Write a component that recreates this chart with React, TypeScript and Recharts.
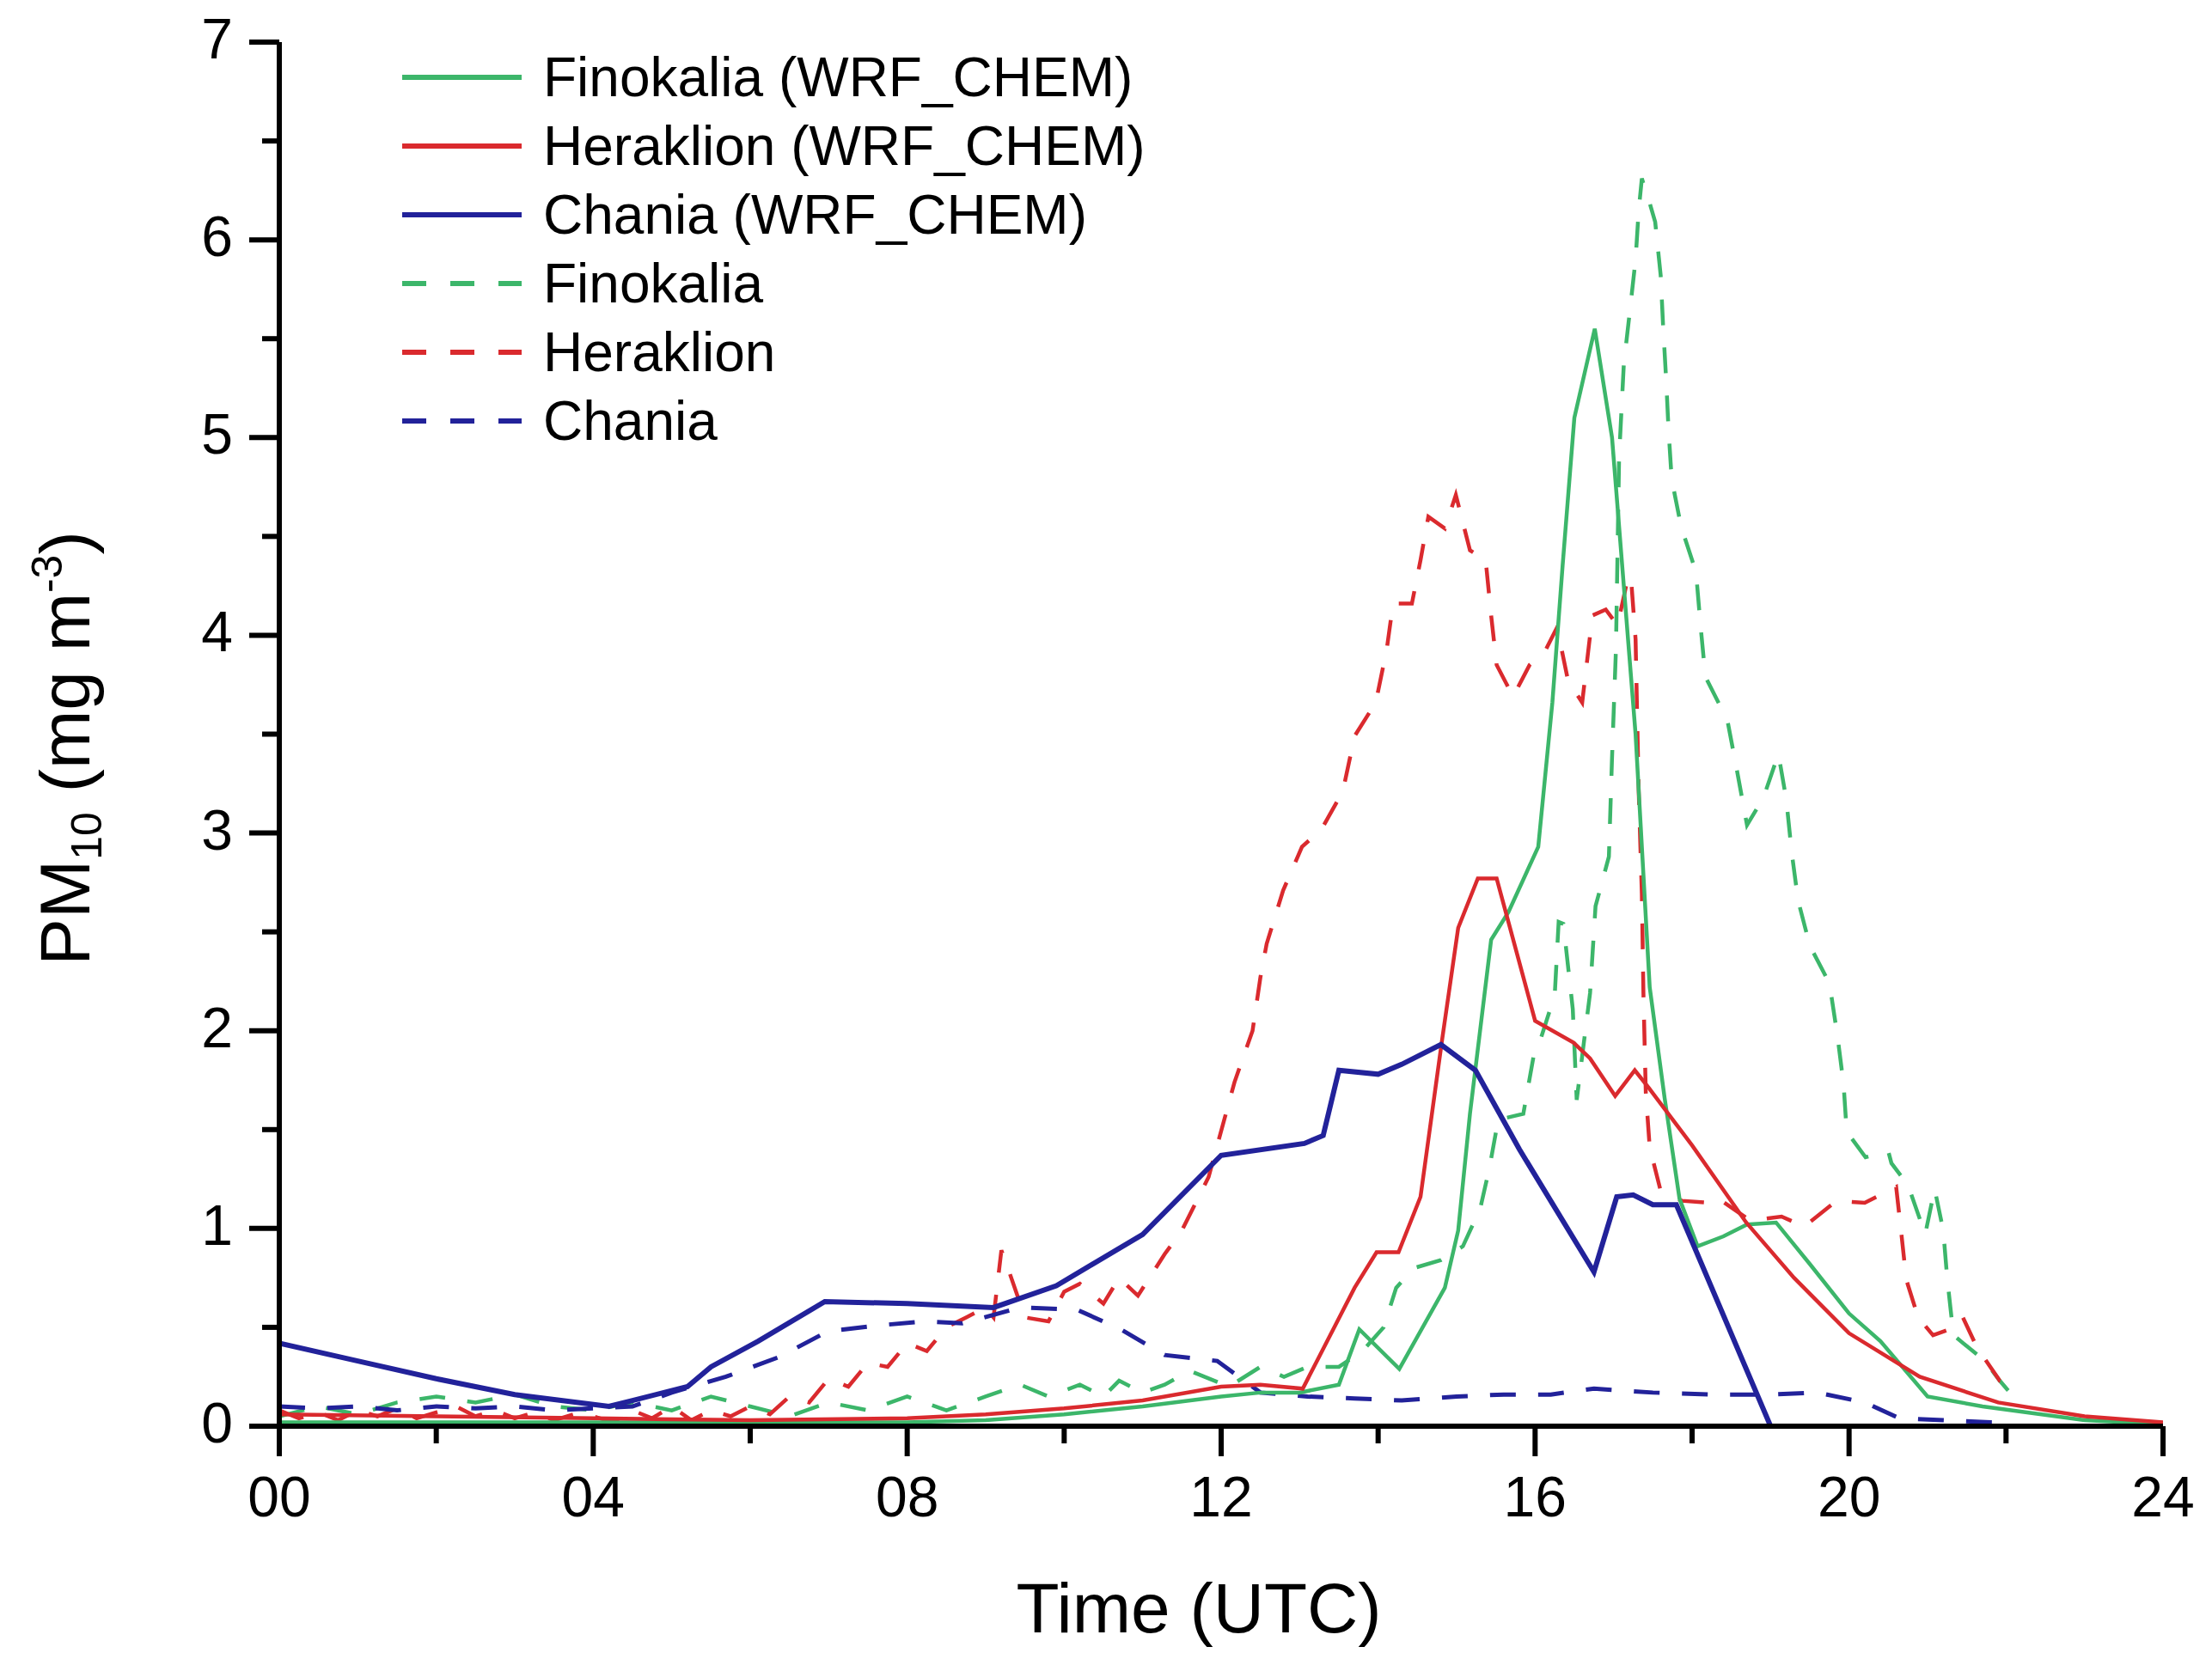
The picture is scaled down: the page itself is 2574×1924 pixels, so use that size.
import { LineChart, Line, XAxis, YAxis, Legend } from "recharts";

// hours (UTC) and PM10 (mg m-3)
const finokaliaWrfHours = [0, 2, 4, 6, 8, 9, 10, 11, 12, 12.5, 13, 13.5, 13.76, 14.27, 14.85, 15.02, 15.17, 15.44, 15.66, 16.04, 16.22, 16.35, 16.5, 16.76, 16.98, 17.1, 17.28, 17.46, 17.65, 17.84, 18.07, 18.4, 18.7, 19.07, 19.5, 20, 20.4, 21, 21.7, 23, 24];
const finokaliaWrfPm = [0.02, 0.02, 0.02, 0.02, 0.02, 0.03, 0.06, 0.1, 0.15, 0.17, 0.17, 0.21, 0.49, 0.29, 0.7, 0.99, 1.58, 2.46, 2.6, 2.93, 3.66, 4.35, 5.1, 5.55, 5.0, 4.4, 3.5, 2.22, 1.66, 1.15, 0.91, 0.96, 1.02, 1.03, 0.82, 0.57, 0.43, 0.15, 0.1, 0.03, 0.01];

const heraklionWrfHours = [0, 2, 4, 6, 8, 9, 10, 11, 12, 12.5, 13.04, 13.7, 13.98, 14.26, 14.54, 14.81, 15.02, 15.27, 15.51, 15.66, 16.0, 16.49, 16.7, 17.02, 17.27, 17.45, 18.0, 18.69, 19.3, 20, 20.9, 21.9, 23, 24];
const heraklionWrfPm = [0.06, 0.05, 0.04, 0.03, 0.04, 0.06, 0.09, 0.13, 0.2, 0.21, 0.19, 0.7, 0.88, 0.88, 1.16, 1.94, 2.52, 2.77, 2.77, 2.55, 2.05, 1.94, 1.86, 1.67, 1.8, 1.71, 1.42, 1.03, 0.75, 0.47, 0.25, 0.12, 0.05, 0.02];

const chaniaWrfHours = [0, 1, 2, 3, 4.2, 4.5, 5.2, 5.5, 6.1, 6.95, 8, 9.1, 9.9, 11, 12, 13.06, 13.3, 13.5, 14, 14.3, 14.8, 15.24, 15.8, 16.75, 17.04, 17.25, 17.5, 17.8, 19, 20, 22, 24];
const chaniaWrfPm = [0.42, 0.33, 0.24, 0.16, 0.1, 0.13, 0.2, 0.3, 0.43, 0.63, 0.62, 0.6, 0.71, 0.97, 1.37, 1.43, 1.47, 1.8, 1.78, 1.83, 1.93, 1.8, 1.4, 0.78, 1.16, 1.17, 1.12, 1.12, 0, 0, 0, 0];

const finokaliaObsHours = [0, 0.5, 1, 1.5, 2, 2.5, 3, 3.5, 4, 4.5, 5, 5.5, 6, 6.5, 7, 7.5, 8, 8.5, 9, 9.44, 9.8, 10.2, 10.5, 10.7, 11, 11.28, 11.6, 12.1, 12.5, 12.8, 13.1, 13.5, 13.8, 14.07, 14.23, 14.46, 14.8, 15.08, 15.3, 15.42, 15.53, 15.85, 15.98, 16.08, 16.25, 16.3, 16.36, 16.48, 16.53, 16.7, 16.77, 16.94, 16.98, 17.03, 17.07, 17.13, 17.21, 17.28, 17.32, 17.36, 17.45, 17.53, 17.6, 17.63, 17.67, 17.7, 17.74, 17.86, 18.05, 18.11, 18.17, 18.45, 18.57, 18.7, 18.91, 19.1, 19.2, 19.27, 19.35, 19.5, 19.75, 19.85, 19.93, 19.97, 20.21, 20.5, 20.54, 20.75, 20.97, 21.09, 21.2, 21.25, 21.33, 21.73, 21.92, 22.2];
const finokaliaObsPm = [0.05, 0.1, 0.06, 0.12, 0.15, 0.12, 0.16, 0.1, 0.08, 0.12, 0.08, 0.15, 0.1, 0.05, 0.12, 0.08, 0.15, 0.08, 0.15, 0.21, 0.15, 0.21, 0.15, 0.23, 0.17, 0.21, 0.28, 0.2, 0.3, 0.25, 0.3, 0.3, 0.38, 0.5, 0.7, 0.8, 0.84, 0.91, 1.1, 1.31, 1.55, 1.58, 1.87, 1.97, 2.18, 2.55, 2.54, 2.11, 1.65, 2.19, 2.63, 2.88, 3.38, 3.93, 4.9, 5.37, 5.65, 5.9, 6.15, 6.31, 6.2, 6.09, 5.82, 5.57, 5.29, 5.04, 4.79, 4.55, 4.32, 4.04, 3.79, 3.57, 3.32, 3.04, 3.18, 3.4, 3.17, 2.9, 2.66, 2.43, 2.24, 1.98, 1.73, 1.49, 1.36, 1.39, 1.33, 1.22, 0.97, 1.2, 0.99, 0.75, 0.46, 0.33, 0.23, 0.1];

const heraklionObsHours = [0, 0.25, 0.5, 0.75, 1, 1.25, 1.5, 1.75, 2, 2.25, 2.5, 2.75, 3, 3.25, 3.5, 3.75, 4, 4.25, 4.5, 4.75, 5, 5.25, 5.5, 5.75, 6, 6.25, 6.5, 6.75, 7, 7.25, 7.5, 7.75, 8, 8.25, 8.5, 8.75, 9, 9.1, 9.2, 9.3, 9.5, 9.8, 10, 10.2, 10.5, 10.7, 10.94, 11.28, 11.5, 11.84, 12.17, 12.4, 12.5, 12.58, 12.79, 13.03, 13.28, 13.55, 13.7, 13.97, 14.11, 14.19, 14.43, 14.54, 14.64, 14.85, 14.99, 15.17, 15.37, 15.44, 15.51, 15.72, 15.93, 16.14, 16.28, 16.42, 16.6, 16.73, 16.9, 17.05, 17.16, 17.22, 17.28, 17.32, 17.36, 17.38, 17.41, 17.46, 17.6, 17.87, 18.2, 18.34, 18.74, 19.14, 19.43, 19.84, 20.2, 20.6, 20.67, 20.73, 20.88, 21.07, 21.35, 21.45, 21.64, 21.73, 21.92, 22.1];
const heraklionObsPm = [0.08, 0.04, 0.07, 0.03, 0.08, 0.05, 0.09, 0.04, 0.07, 0.1, 0.05, 0.08, 0.04, 0.07, 0.03, 0.06, 0.05, 0.02, 0.08, 0.04, 0.1, 0.03, 0.08, 0.05, 0.1, 0.06, 0.15, 0.12, 0.24, 0.2, 0.32, 0.3, 0.42, 0.38, 0.5, 0.55, 0.6, 0.55, 0.89, 0.78, 0.55, 0.53, 0.68, 0.72, 0.62, 0.75, 0.66, 0.87, 0.99, 1.26, 1.74, 2.0, 2.27, 2.44, 2.71, 2.93, 3.02, 3.21, 3.49, 3.66, 3.93, 4.16, 4.16, 4.38, 4.6, 4.54, 4.71, 4.43, 4.38, 4.1, 3.85, 3.69, 3.85, 3.93, 4.04, 3.77, 3.66, 4.1, 4.13, 4.05, 4.25, 4.3, 3.98, 3.21, 2.69, 2.19, 1.69, 1.41, 1.19, 1.14, 1.13, 1.15, 1.04, 1.06, 1.01, 1.14, 1.13, 1.21, 0.96, 0.74, 0.55, 0.46, 0.5, 0.55, 0.39, 0.34, 0.23, 0.2];

const chaniaObsHours = [0, 0.5, 1, 1.5, 2, 2.5, 3, 3.5, 4, 4.5, 5, 5.69, 6.37, 6.99, 7.65, 8.2, 8.7, 9.44, 10.16, 10.72, 11.28, 11.95, 12.5, 13.1, 13.7, 14.3, 15, 15.6, 16.2, 16.75, 17.5, 18.3, 19, 19.6, 20.2, 20.64, 21.2, 21.8, 22];
const chaniaObsPm = [0.1, 0.09, 0.1, 0.08, 0.1, 0.09, 0.1, 0.08, 0.09, 0.1, 0.17, 0.25, 0.35, 0.48, 0.51, 0.53, 0.52, 0.6, 0.59, 0.49, 0.36, 0.33, 0.17, 0.15, 0.14, 0.13, 0.15, 0.16, 0.16, 0.19, 0.17, 0.16, 0.16, 0.17, 0.12, 0.04, 0.03, 0.02, 0.02];

const xTicks = [0, 2, 4, 6, 8, 10, 12, 14, 16, 18, 20, 22, 24];
const yTicks = [0, 0.5, 1, 1.5, 2, 2.5, 3, 3.5, 4, 4.5, 5, 5.5, 6, 6.5, 7];

const GREEN = "#3cb66a";
const RED = "#da2a2e";
const BLUE = "#22229a";
const FONT = "'Liberation Sans', Arial, Helvetica, sans-serif";
const DASH = "30 26";

const W = 2574;
const H = 1924;
const PLOT_LEFT = 325;
const PLOT_TOP = 49;
const PLOT_RIGHT = 2517;
const PLOT_BOTTOM = 1660;

const toPoints = (hours: number[], pm: number[]) =>
  hours.map((t, i) => ({ t, v: pm[i] }));

const series = [
  { name: "Finokalia (WRF_CHEM)", color: GREEN, dashed: false, width: 4.5, data: toPoints(finokaliaWrfHours, finokaliaWrfPm) },
  { name: "Heraklion (WRF_CHEM)", color: RED, dashed: false, width: 4.5, data: toPoints(heraklionWrfHours, heraklionWrfPm) },
  { name: "Chania (WRF_CHEM)", color: BLUE, dashed: false, width: 6, data: toPoints(chaniaWrfHours, chaniaWrfPm) },
  { name: "Finokalia", color: GREEN, dashed: true, width: 4.5, data: toPoints(finokaliaObsHours, finokaliaObsPm) },
  { name: "Heraklion", color: RED, dashed: true, width: 4.5, data: toPoints(heraklionObsHours, heraklionObsPm) },
  { name: "Chania", color: BLUE, dashed: true, width: 5, data: toPoints(chaniaObsHours, chaniaObsPm) },
];

// draw order: observations under the model lines
const drawOrder = [3, 4, 5, 0, 1, 2];

const XTick = (props: any) => {
  const { x, y, payload } = props;
  const major = payload.value % 4 === 0;
  return (
    <g>
      <line x1={x} x2={x} y1={y} y2={y + (major ? 35 : 20)} stroke="#000" strokeWidth={6} />
      {major && (
        <text x={x} y={y + 105} textAnchor="middle" fontSize={66} fontFamily={FONT} fill="#000">
          {String(payload.value).padStart(2, "0")}
        </text>
      )}
    </g>
  );
};

const YTick = (props: any) => {
  const { x, y, payload } = props;
  const major = Number.isInteger(payload.value);
  return (
    <g>
      <line x1={x - (major ? 35 : 20)} x2={x} y1={y} y2={y} stroke="#000" strokeWidth={6} />
      {major && (
        <text x={x - 54} y={y + 19} textAnchor="end" fontSize={66} fontFamily={FONT} fill="#000">
          {payload.value}
        </text>
      )}
    </g>
  );
};

const XLabel = () => (
  <text x={1395} y={1900} textAnchor="middle" fontSize={82} fontFamily={FONT} fill="#000">
    Time (UTC)
  </text>
);

const YLabel = () => (
  <text
    x={104}
    y={871}
    transform="rotate(-90 104 871)"
    textAnchor="middle"
    fontSize={82}
    fontFamily={FONT}
    fill="#000"
  >
    PM
    <tspan fontSize={50} dy={14}>10</tspan>
    <tspan dy={-14}> (mg m</tspan>
    <tspan fontSize={50} dy={-32}>-3</tspan>
    <tspan dy={32}>)</tspan>
  </text>
);

const LegendBox = () => (
  <div style={{ fontFamily: FONT, fontSize: 64, color: "#000" }}>
    {series.map((s) => (
      <div key={s.name} style={{ display: "flex", alignItems: "center", height: 80, lineHeight: "80px", whiteSpace: "nowrap" }}>
        <svg width={139} height={20} style={{ display: "block" }}>
          <line
            x1={0}
            x2={139}
            y1={10}
            y2={10}
            stroke={s.color}
            strokeWidth={6}
            strokeDasharray={s.dashed ? "28 28" : undefined}
          />
        </svg>
        <span style={{ marginLeft: 25 }}>{s.name}</span>
      </div>
    ))}
  </div>
);

export default function App() {
  return (
    <div style={{ position: "absolute", left: 0, top: 0, width: W, height: H, background: "#fff" }}>
      <LineChart
        width={W}
        height={H}
        margin={{ top: PLOT_TOP, right: W - PLOT_RIGHT, bottom: H - PLOT_BOTTOM - 150, left: PLOT_LEFT - 200 }}
      >
        <XAxis
          dataKey="t"
          type="number"
          domain={[0, 24]}
          ticks={xTicks}
          interval={0}
          height={150}
          tickSize={0}
          tickMargin={0}
          tickLine={false}
          tick={<XTick />}
          axisLine={{ stroke: "#000", strokeWidth: 6 }}
          allowDataOverflow
          label={<XLabel />}
        />
        <YAxis
          type="number"
          domain={[0, 7]}
          ticks={yTicks}
          interval={0}
          width={200}
          tickSize={0}
          tickMargin={0}
          tickLine={false}
          tick={<YTick />}
          axisLine={{ stroke: "#000", strokeWidth: 6 }}
          allowDataOverflow
          label={<YLabel />}
        />
        <Legend
          layout="horizontal"
          align="center"
          verticalAlign="middle"
          content={<LegendBox />}
          wrapperStyle={{ left: 468, top: 50, width: 900, height: 480 }}
        />
        {drawOrder.map((i) => {
          const s = series[i];
          return (
            <Line
              key={s.name}
              name={s.name}
              data={s.data}
              dataKey="v"
              type="linear"
              stroke={s.color}
              strokeWidth={s.width}
              strokeDasharray={s.dashed ? DASH : undefined}
              dot={false}
              activeDot={false}
              isAnimationActive={false}
            />
          );
        })}
      </LineChart>
    </div>
  );
}
